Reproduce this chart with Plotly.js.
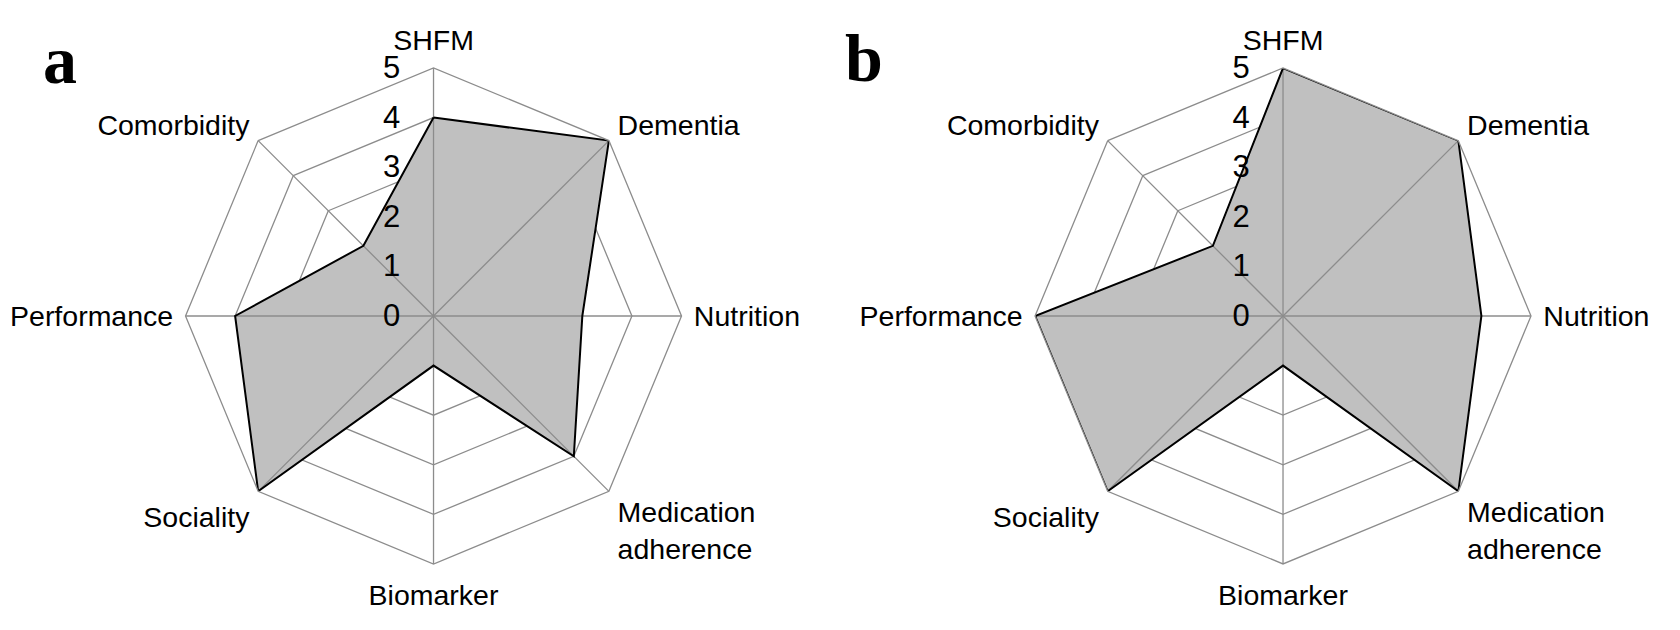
<!DOCTYPE html>
<html>
<head>
<meta charset="utf-8">
<script src="https://cdn.plot.ly/plotly-3.0.1.min.js"></script>
<style>
  html, body { margin: 0; padding: 0; background: #fff; }
  #chart { width: 1680px; height: 630px; }
</style>
</head>
<body>
<div id="chart"></div>
<script>
// Data
const categories = ["SHFM", "Dementia", "Nutrition", "Medication<br>adherence", "Biomarker", "Sociality", "Performance", "Comorbidity"];
const valuesA = [4, 5, 3, 4, 1, 5, 4, 2];
const valuesB = [5, 5, 4, 5, 1, 5, 5, 2];
const radialTicks = [0, 1, 2, 3, 4, 5];
const panelLabels = ["a", "b"];

function closed(arr) { return arr.concat([arr[0]]); }

const gridGray = "#8c8c8c";
const rMax = radialTicks[radialTicks.length - 1];
const labelFont = { family: "Liberation Sans, Arial, sans-serif", size: 28.5, color: "#000" };

function fillTrace(vals, subplot) {
  return {
    type: "scatterpolar", r: closed(vals), theta: closed(categories), subplot: subplot,
    mode: "lines", fill: "toself", fillcolor: "#c0c0c0",
    line: { color: "rgba(0,0,0,0)", width: 0 }, hoverinfo: "skip", showlegend: false
  };
}
function outlineTrace(vals, subplot) {
  return {
    type: "scatterpolar", r: closed(vals), theta: closed(categories), subplot: subplot,
    mode: "lines", line: { color: "#000", width: 2 }, hoverinfo: "skip", showlegend: false
  };
}
// spokes (angular grid lines) drawn over the fill, one per category
function spokeTraces(subplot) {
  return categories.map(c => ({
    type: "scatterpolar", r: [0, rMax], theta: [c, c], subplot: subplot,
    mode: "lines", line: { color: gridGray, width: 1.3 }, hoverinfo: "skip", showlegend: false
  }));
}

function polarLayout(xdom) {
  return {
    domain: { x: xdom, y: [0.1048, 0.8921] },
    gridshape: "linear",
    bgcolor: "rgba(0,0,0,0)",
    radialaxis: {
      range: [0, rMax],
      tickvals: radialTicks,
      ticktext: radialTicks.map(String),
      angle: 90,
      tickangle: 90,
      side: "counterclockwise",
      showline: false,
      gridcolor: gridGray,
      gridwidth: 1.3,
      ticks: "outside",
      ticklen: 22,
      tickcolor: "rgba(0,0,0,0)",
      tickfont: { family: "Liberation Sans, Arial, sans-serif", size: 31, color: "#000" }
    },
    angularaxis: {
      direction: "clockwise",
      rotation: 90,
      categoryorder: "array",
      categoryarray: categories,
      linecolor: gridGray,
      linewidth: 1.3,
      showgrid: false,
      ticks: "outside",
      ticklen: 6,
      tickcolor: "rgba(0,0,0,0)",
      tickfont: labelFont
    }
  };
}

const data = [].concat(
  [fillTrace(valuesA, "polar")], spokeTraces("polar"), [outlineTrace(valuesA, "polar")],
  [fillTrace(valuesB, "polar2")], spokeTraces("polar2"), [outlineTrace(valuesB, "polar2")]
);

const layout = {
  width: 1680,
  height: 630,
  margin: { l: 0, r: 0, t: 0, b: 0 },
  paper_bgcolor: "#fff",
  plot_bgcolor: "#fff",
  showlegend: false,
  polar: polarLayout([0.1104, 0.4057]),
  polar2: polarLayout([0.6161, 0.9113]),
  annotations: [
    { text: panelLabels[0], xref: "paper", yref: "paper", x: 60 / 1680, y: 1 - 60 / 630, xanchor: "center", yanchor: "middle", showarrow: false,
      font: { family: "Liberation Serif, Times New Roman, serif", size: 68, color: "#000", weight: "bold" } },
    { text: panelLabels[1], xref: "paper", yref: "paper", x: 864 / 1680, y: 1 - 58 / 630, xanchor: "center", yanchor: "middle", showarrow: false,
      font: { family: "Liberation Serif, Times New Roman, serif", size: 68, color: "#000", weight: "bold" } }
  ]
};

Plotly.newPlot("chart", data, layout, { displayModeBar: false, staticPlot: true });
</script>
</body>
</html>
